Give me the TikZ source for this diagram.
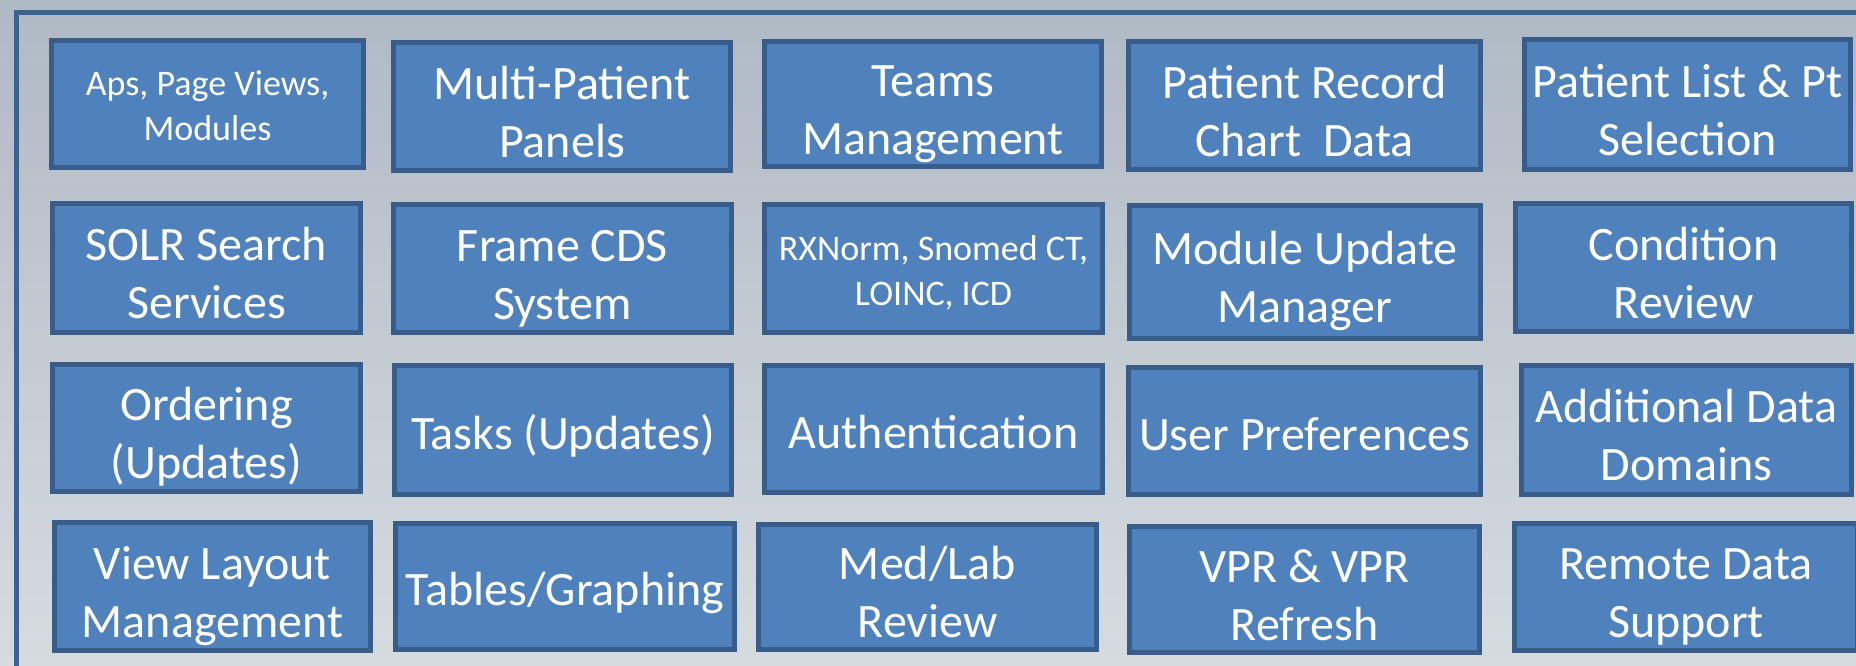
\documentclass[tikz,border=0pt]{standalone}
\usepackage{fontspec}
\setmainfont{Carlito}
\usepackage{tikz}
\definecolor{tilefill}{HTML}{4F81BD}
\definecolor{tileedge}{HTML}{385D8A}
\definecolor{frameedge}{HTML}{3C6390}
\definecolor{bgtop}{HTML}{AFB9C4}
\definecolor{bgbottom}{HTML}{D6DBE0}
\tikzstyle{tile} = [draw=tileedge, fill=tilefill, line width=2.5pt,
    rectangle, text=white, align=center, inner sep=0pt,
    execute at begin node={\rule{0pt}{25pt}},
    execute at end node={\rule[-6pt]{0pt}{0pt}},
    font=\fontsize{24}{29}\selectfont]
\tikzstyle{twotile} = [tile, execute at begin node={\rule{0pt}{56.5pt}}]
\tikzstyle{smalltile} = [tile,
    execute at begin node={\rule{0pt}{42.5pt}},
    execute at end node={\rule[-4.5pt]{0pt}{0pt}},
    font=\fontsize{18}{22.5}\selectfont]

\begin{document}
\begin{tikzpicture}[x=0.5pt, y=-0.5pt]
    \clip (0,0) rectangle (1856,665);
    \shade[top color=bgtop, bottom color=bgbottom] (0,0) rectangle (1856,665);
    \draw[frameedge, line width=2.5pt] (16.5,12.5) rectangle (1900,700);
    % row 1
    \node[smalltile, minimum width=156pt, minimum height=63.5pt] (aps) at (207.5,104) {Aps, Page Views,\\Modules};
    \node[twotile, minimum width=168.5pt, minimum height=64pt] (multi) at (562,106.5) {Multi-Patient\\Panels};
    \node[twotile, minimum width=168.5pt, minimum height=62pt] (teams) at (933,103.5) {Teams\\Management};
    \node[twotile, minimum width=176pt, minimum height=64pt] (record) at (1304.5,105.5) {Patient Record\\Chart\ \ Data};
    \node[twotile, minimum width=163pt, minimum height=65pt] (ptlist) at (1687.5,104.5) {Patient List \& Pt\\Selection};
    % row 2
    \node[twotile, minimum width=154pt, minimum height=64.5pt] (solr) at (206.5,268) {SOLR Search\\Services};
    \node[twotile, minimum width=169pt, minimum height=64pt] (cds) at (562.5,268.5) {Frame CDS\\System};
    \node[smalltile, minimum width=169pt, minimum height=64pt] (rxnorm) at (933.5,268.5) {RXNorm, Snomed CT,\\LOINC, ICD};
    \node[twotile, minimum width=175.5pt, minimum height=66.5pt] (module) at (1305,272) {Module Update\\Manager};
    \node[twotile, minimum width=168pt, minimum height=64pt] (condition) at (1683.5,267.5) {Condition\\Review};
    % row 3
    \node[twotile, minimum width=154pt, minimum height=63.5pt] (ordering) at (206.5,428) {Ordering\\(Updates)};
    \node[tile, minimum width=168.5pt, minimum height=64.5pt] (tasks) at (563,430) {Tasks (Updates)};
    \node[tile, minimum width=169pt, minimum height=63.5pt] (auth) at (933.5,429) {Authentication};
    \node[tile, minimum width=176pt, minimum height=63.5pt] (prefs) at (1304.5,431) {User Preferences};
    \node[twotile, minimum width=165pt, minimum height=64.5pt] (domains) at (1686.5,430) {Additional Data\\Domains};
    % row 4
    \node[twotile, minimum width=158pt, minimum height=64pt] (layout) at (212.5,586.5) {View Layout\\Management};
    \node[tile, minimum width=169.5pt, minimum height=63pt] (graphing) at (565,586.5) {Tables/Graphing};
    \node[twotile, minimum width=169pt, minimum height=62.5pt] (medlab) at (927.5,587) {Med/Lab\\Review};
    \node[twotile, minimum width=175pt, minimum height=63pt] (vpr) at (1304.5,589.5) {VPR \& VPR\\Refresh};
    \node[twotile, minimum width=171.5pt, minimum height=63.5pt] (remote) at (1686,587) {Remote Data\\Support};
\end{tikzpicture}
\end{document}
